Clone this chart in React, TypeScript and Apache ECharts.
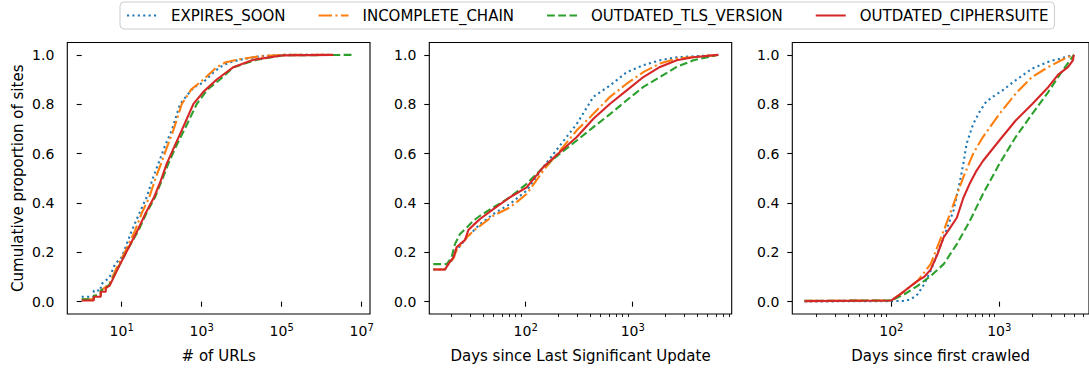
import React, { useEffect, useRef } from 'react';
import * as echarts from 'echarts';

const seriesNames = ['EXPIRES_SOON', 'INCOMPLETE_CHAIN', 'OUTDATED_TLS_VERSION', 'OUTDATED_CIPHERSUITE'];
const seriesColors = ['#1f77b4', '#ff7f0e', '#2ca02c', '#d62728'];
const seriesDash: any[] = [[2.1, 3.3], [13.5, 3.4, 2.1, 3.4], [7.8, 3.4], 'solid'];

const axisTitles = ['# of URLs', 'Days since Last Significant Update', 'Days since first crawled'];
const yTitle = 'Cumulative proportion of sites';
const yTicks = [0, 0.2, 0.4, 0.6, 0.8, 1.0];
const p1Decades = [1, 3, 5, 7];
const p2Decades = [2, 3];
const p3Decades = [2, 3];

// Panel 1: # of URLs  [value, cumulative proportion]
const urlsExpiresSoon = [[1,0.02],[2,0.02],[2,0.045],[3,0.045],[3,0.07],[4,0.085],[5,0.1],[6.8,0.152],[10,0.18],[17.8,0.287],[28,0.36],[42,0.423],[60,0.5],[82,0.558],[120,0.63],[178,0.694],[287,0.8],[450,0.84],[650,0.87],[910,0.88],[1300,0.9],[2000,0.93],[2870,0.95],[5000,0.97],[9100,0.98],[30000,0.995],[110000,1.0],[1.5e6,1.0]];
const urlsIncompleteChain = [[1,0.01],[2,0.01],[2,0.025],[3,0.025],[3,0.045],[4,0.06],[5,0.075],[8.2,0.152],[12,0.2],[21.4,0.287],[32,0.36],[49,0.423],[70,0.5],[96,0.558],[135,0.625],[195,0.694],[316,0.8],[550,0.86],[1100,0.9],[2370,0.95],[4000,0.97],[7500,0.98],[30000,0.995],[110000,1],[2e6,1]];
const urlsOutdatedTls = [[1,0.01],[2,0.01],[2,0.025],[3,0.025],[3,0.045],[4,0.055],[5,0.07],[9.1,0.152],[14,0.21],[26,0.287],[42,0.36],[68,0.423],[100,0.49],[146,0.558],[230,0.63],[361,0.694],[750,0.8],[1400,0.86],[2870,0.9],[6200,0.95],[23700,0.98],[110000,0.998],[6.7e6,1]];
const urlsOutdatedCipher = [[1,0.005],[2,0.005],[2,0.02],[3,0.02],[3,0.04],[4,0.04],[4,0.055],[5,0.065],[9.1,0.152],[14,0.21],[24.6,0.287],[40,0.36],[64.4,0.423],[95,0.49],[133,0.558],[210,0.63],[316,0.694],[616,0.8],[1100,0.85],[2370,0.9],[6200,0.95],[19500,0.98],[110000,0.998],[1.95e6,1]];

// Panel 2: days since last significant update
const updExpiresSoon = [[13.7,0.13],[17.6,0.13],[18.9,0.152],[21.1,0.175],[22.6,0.21],[24.3,0.225],[28.1,0.26],[37.4,0.314],[49.8,0.355],[71.3,0.396],[102,0.45],[146,0.545],[209,0.633],[300,0.72],[429,0.83],[614,0.876],[879,0.93],[1257,0.958],[1799,0.978],[2576,0.99],[6310,1]];
const updIncompleteChain = [[13.7,0.13],[17.6,0.13],[18.9,0.152],[21.1,0.175],[22.6,0.21],[24.3,0.225],[28.1,0.26],[32.4,0.287],[37.4,0.307],[49.8,0.348],[71.3,0.382],[102,0.436],[146,0.531],[209,0.612],[300,0.694],[429,0.761],[614,0.83],[879,0.883],[1257,0.93],[1799,0.965],[2576,0.985],[6310,1]];
const updOutdatedTls = [[13.7,0.152],[18.3,0.152],[20.3,0.18],[21.8,0.233],[24.3,0.274],[28.1,0.3],[32.4,0.328],[37.4,0.348],[49.8,0.382],[71.3,0.423],[102,0.477],[146,0.545],[209,0.6],[300,0.653],[429,0.707],[614,0.76],[879,0.816],[1257,0.87],[1799,0.91],[2576,0.951],[3684,0.978],[6310,1.0]];
const updOutdatedCipher = [[13.7,0.13],[17.6,0.13],[18.9,0.152],[21.1,0.179],[22.6,0.22],[24.3,0.233],[27.1,0.25],[29.1,0.29],[32.4,0.31],[37.4,0.335],[49.8,0.375],[71.3,0.423],[102,0.463],[146,0.545],[209,0.606],[300,0.667],[429,0.741],[614,0.802],[879,0.856],[1257,0.91],[1799,0.951],[2576,0.978],[3684,0.99],[6310,1.0]];

// Panel 3: days since first crawled
const crawlExpiresSoon = [[15.7,0.001],[100,0.002],[132,0.003],[152,0.01],[175,0.03],[201,0.07],[231,0.125],[305,0.26],[377,0.37],[433,0.49],[464,0.558],[498,0.64],[573,0.72],[658,0.77],[756,0.81],[870,0.83],[1072,0.856],[1418,0.897],[2010,0.944],[2850,0.972],[4037,0.99],[4910,1]];
const crawlIncompleteChain = [[15.7,0.003],[100,0.005],[132,0.043],[175,0.084],[231,0.152],[305,0.287],[377,0.396],[464,0.504],[573,0.6],[705,0.667],[1000,0.76],[1418,0.843],[2010,0.91],[2850,0.951],[4037,0.985],[4910,1]];
const crawlOutdatedTls = [[15.7,0.003],[100,0.005],[132,0.03],[175,0.064],[231,0.104],[305,0.152],[404,0.233],[534,0.328],[705,0.436],[1000,0.558],[1418,0.667],[2010,0.76],[2850,0.85],[3765,0.93],[4910,1.0]];
const crawlOutdatedCipher = [[15.7,0.002],[100,0.005],[115,0.023],[132,0.043],[152,0.064],[175,0.084],[201,0.1],[231,0.13],[266,0.19],[305,0.26],[351,0.3],[404,0.34],[464,0.42],[534,0.48],[614,0.53],[705,0.57],[1000,0.653],[1418,0.734],[2010,0.8],[2850,0.87],[3510,0.92],[4328,0.95],[4806,0.978],[4910,1.0]];

const panels = [
  [urlsExpiresSoon, urlsIncompleteChain, urlsOutdatedTls, urlsOutdatedCipher],
  [updExpiresSoon, updIncompleteChain, updOutdatedTls, updOutdatedCipher],
  [crawlExpiresSoon, crawlIncompleteChain, crawlOutdatedTls, crawlOutdatedCipher],
];

const FONT = 'DejaVu Sans';

function minorValues(lo: number, hi: number) {
  const out: number[] = [];
  for (let d = Math.floor(lo); d <= Math.ceil(hi); d++) {
    for (let m = 2; m <= 9; m++) {
      const v = d + Math.log10(m);
      if (v >= lo && v <= hi) out.push(v);
    }
  }
  return out;
}

export default function App() {
  const ref = useRef<HTMLDivElement>(null);
  useEffect(() => {
    if (!ref.current) return;
    const chart = echarts.init(ref.current, undefined, { renderer: 'svg' });

    const gridH = 271.5;
    const gridTop = 42.5;
    const grids = [
      { left: 67.3, top: gridTop, width: 302.7, height: gridH },
      { left: 429.3, top: gridTop, width: 302.4, height: gridH },
      { left: 792.3, top: gridTop, width: 302.4, height: gridH },
    ].map((g) => ({ ...g, show: true, borderColor: '#000', borderWidth: 1.1, backgroundColor: 'transparent' }));

    const ranges = [
      [-0.36, 7.2075],
      [1.099, 3.925],
      [1.082, 3.831],
    ];
    const majors = [p1Decades, p2Decades, p3Decades];

    const mainX = ranges.map((r, i) => ({
      type: 'value',
      gridIndex: i,
      position: 'bottom',
      min: r[0],
      max: r[1],
      axisLine: { show: false },
      splitLine: { show: false },
      axisTick: {
        show: true,
        customValues: majors[i],
        length: 5,
        inside: false,
        lineStyle: { color: '#000', width: 1.1 },
      },
      axisLabel: {
        show: true,
        customValues: majors[i],
        margin: 8,
        color: '#000',
        fontFamily: FONT,
        formatter: (v: number) => `{b|10}{s|${Math.round(v)}}`,
        rich: {
          b: { fontSize: 14, fontFamily: FONT, color: '#000' },
          s: { fontSize: 10, fontFamily: FONT, color: '#000', padding: [0, 0, 8, 0] },
        },
      },
      name: axisTitles[i],
      nameLocation: 'middle',
      nameGap: 34,
      nameTextStyle: { fontSize: 15, fontFamily: FONT, color: '#000' },
    }));

    const minorX = [1, 2].map((i) => ({
      type: 'value',
      gridIndex: i,
      position: 'bottom',
      min: ranges[i][0],
      max: ranges[i][1],
      axisLine: { show: false },
      splitLine: { show: false },
      axisLabel: { show: false },
      axisTick: {
        show: true,
        customValues: minorValues(ranges[i][0], ranges[i][1]),
        length: 3,
        inside: false,
        lineStyle: { color: '#000', width: 0.9 },
      },
    }));

    const yAxes = [0, 1, 2].map((i) => ({
      type: 'value',
      gridIndex: i,
      min: -0.05,
      max: 1.05,
      axisLine: { show: false },
      splitLine: { show: false },
      axisTick: {
        show: true,
        customValues: yTicks,
        length: 5,
        inside: false,
        lineStyle: { color: '#000', width: 1.1 },
      },
      axisLabel: {
        show: true,
        customValues: yTicks,
        margin: 13,
        color: '#000',
        fontSize: 14,
        fontFamily: FONT,
        formatter: (v: number) => v.toFixed(1),
      },
      name: i === 0 ? yTitle : '',
      nameLocation: 'middle',
      nameRotate: 90,
      nameGap: 42,
      nameTextStyle: { fontSize: 15, fontFamily: FONT, color: '#000' },
    }));

    const series: any[] = [];
    panels.forEach((panel, p) => {
      panel.forEach((pts, s) => {
        series.push({
          type: 'line',
          name: seriesNames[s],
          xAxisIndex: p,
          yAxisIndex: p,
          data: pts.map(([x, y]) => [Math.log10(x), y]),
          symbol: 'none',
          showSymbol: false,
          z: 2 + s,
          lineStyle: { color: seriesColors[s], width: 2.1, type: seriesDash[s] },
          itemStyle: { color: seriesColors[s] },
          emphasis: { disabled: true },
        });
      });
    });

    chart.setOption({
      animation: false,
      backgroundColor: '#fff',
      grid: grids,
      xAxis: [...mainX, ...minorX],
      yAxis: yAxes,
      legend: {
        data: seriesNames,
        left: 120,
        top: 2,
        orient: 'horizontal',
        padding: [6, 6, 6, 6],
        itemWidth: 30,
        itemHeight: 15,
        itemGap: 32,
        borderColor: '#cccccc',
        borderWidth: 1,
        borderRadius: 4,
        backgroundColor: '#fff',
        selectedMode: false,
        itemStyle: { opacity: 0 },
        textStyle: { fontSize: 15, fontFamily: FONT, color: '#000', padding: [0, 0, 0, 9] },
      },
      series,
    });
    return () => chart.dispose();
  }, []);
  return <div ref={ref} style={{ position: 'fixed', left: 0, top: 0, width: 1089, height: 370, background: '#fff' }} />;
}
